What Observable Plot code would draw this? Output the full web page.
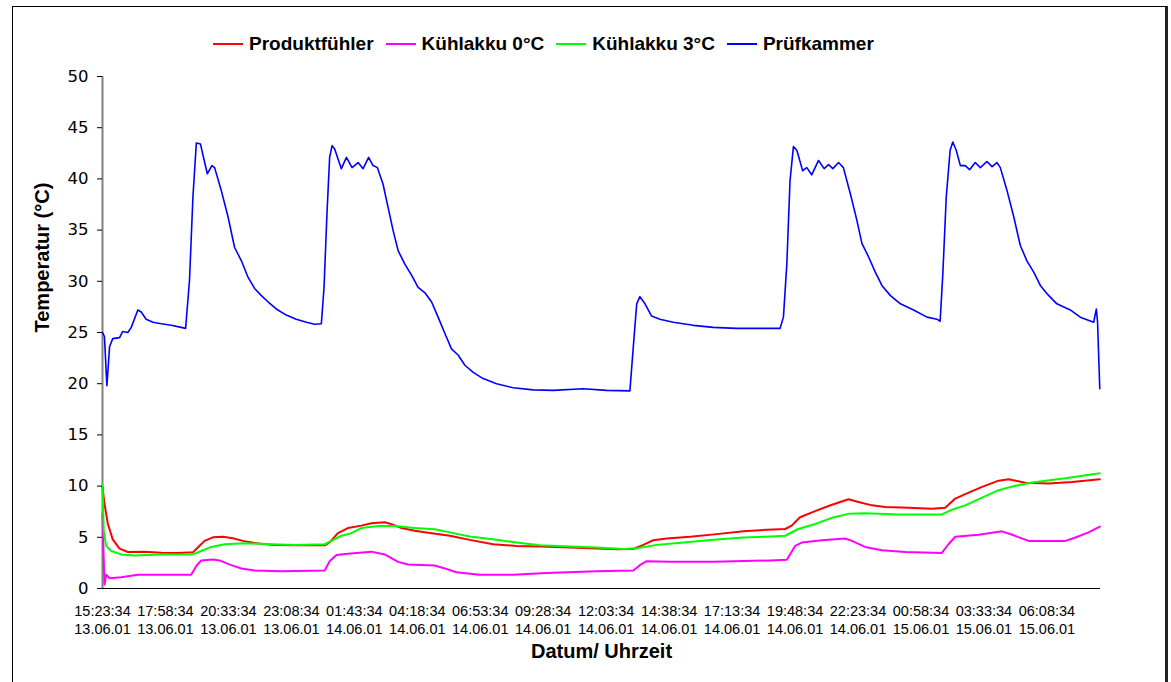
<!DOCTYPE html>
<html>
<head>
<meta charset="utf-8">
<script src="https://cdn.jsdelivr.net/npm/d3@7"></script>
<script src="https://cdn.jsdelivr.net/npm/@observablehq/plot@0.6"></script>
<style>
  body { margin: 0; background: #fff; }
  #wrap { position: relative; width: 1171px; height: 682px; overflow: hidden; background: #fff; }
  #box { position: absolute; left: 12px; top: 6px; width: 1152px; height: 720px; border-left: 1px solid #000; border-top: 1px solid #000; border-right: 3px solid #222; }
  #legend { position: absolute; left: 213px; top: 33px; display: flex; align-items: center; font-family: "Liberation Sans", Arial, sans-serif; font-weight: bold; font-size: 19px; line-height: 22px; color: #000; }
  #legend .item { display: flex; align-items: center; margin-right: 12px; }
  #legend .sw { width: 30px; height: 2px; margin-right: 6px; }
  #chart { position: absolute; left: 0; top: 0; }
</style>
</head>
<body>
<div id="wrap">
  <div id="box"></div>
  <div id="legend"></div>
  <div id="chart"></div>
</div>
<script>
// ---- Data (hours since start, °C) ----
const startTime = "2001-06-13T15:23:34Z";
const endTime = "2001-06-15T08:20:34Z";

const seriesNames = ["Produktfühler", "Kühlakku 0°C", "Kühlakku 3°C", "Prüfkammer"];
const seriesColors = ["#ff0000", "#ff00ff", "#00ff00", "#0000ff"];

const produktfuehler = [[0,9.9],[0.08,8.3],[0.22,6.3],[0.42,4.8],[0.70,3.9],[1.04,3.56],[1.72,3.6],[2.41,3.5],[3.09,3.47],[3.71,3.53],[3.91,4.0],[4.19,4.65],[4.53,5.0],[4.94,5.05],[5.35,4.9],[5.76,4.65],[6.24,4.45],[6.93,4.26],[7.89,4.22],[9.12,4.22],[9.32,4.5],[9.66,5.4],[10.07,5.9],[10.62,6.14],[11.03,6.37],[11.58,6.47],[11.92,6.24],[12.27,5.9],[12.81,5.64],[13.36,5.45],[14.25,5.15],[15.07,4.75],[16.03,4.32],[16.99,4.16],[17.95,4.09],[19.18,4.0],[20.27,3.9],[21.10,3.83],[21.78,3.86],[22.19,4.26],[22.60,4.72],[23.15,4.88],[24.11,5.05],[25.20,5.31],[26.30,5.58],[27.26,5.74],[28.01,5.81],[28.28,6.14],[28.62,6.96],[29.24,7.56],[29.93,8.18],[30.61,8.71],[31.02,8.45],[31.57,8.12],[32.11,7.95],[33.07,7.89],[34.03,7.79],[34.58,7.89],[34.99,8.78],[35.40,9.21],[36.09,9.93],[36.77,10.53],[37.18,10.66],[37.86,10.33],[38.82,10.26],[39.78,10.4],[40.92,10.66]];

const kuehlakku0 = [[0,7.3],[0.08,0.36],[0.15,1.35],[0.29,1.0],[0.77,1.1],[1.45,1.35],[3.64,1.35],[3.85,2.2],[4.05,2.74],[4.53,2.84],[4.80,2.74],[5.28,2.28],[5.70,1.95],[6.24,1.75],[7.34,1.68],[9.12,1.75],[9.32,2.67],[9.60,3.27],[10.07,3.4],[11.03,3.6],[11.58,3.33],[12.13,2.6],[12.54,2.34],[13.63,2.24],[13.98,2.01],[14.52,1.58],[15.48,1.35],[16.85,1.35],[18.22,1.52],[20.27,1.68],[21.78,1.75],[22.05,2.28],[22.33,2.67],[23.29,2.61],[25.06,2.61],[27.39,2.74],[28.08,2.8],[28.42,4.16],[28.69,4.49],[29.52,4.72],[30.47,4.88],[30.75,4.65],[31.29,4.06],[31.98,3.73],[32.94,3.56],[34.44,3.47],[34.71,4.32],[34.99,5.05],[35.95,5.25],[36.91,5.58],[37.32,5.25],[38.0,4.65],[39.51,4.65],[39.92,4.98],[40.46,5.48],[40.92,6.04]];

const kuehlakku3 = [[0,10.1],[0.05,5.6],[0.15,4.16],[0.36,3.66],[0.77,3.33],[1.31,3.23],[2.41,3.33],[3.71,3.33],[4.05,3.66],[4.46,4.06],[5.01,4.32],[5.83,4.42],[6.93,4.32],[7.89,4.26],[9.12,4.32],[9.39,4.65],[9.80,5.15],[10.21,5.4],[10.62,5.9],[11.31,6.1],[11.99,6.1],[12.81,5.9],[13.63,5.78],[14.25,5.48],[15.07,5.08],[16.17,4.75],[16.99,4.49],[17.95,4.22],[19.18,4.09],[20.27,4.0],[21.37,3.86],[21.92,3.93],[22.74,4.26],[23.83,4.49],[25.06,4.75],[26.30,4.98],[27.39,5.08],[28.01,5.15],[28.55,5.81],[29.24,6.30],[29.93,6.90],[30.61,7.29],[31.29,7.36],[32.66,7.23],[34.44,7.23],[34.85,7.69],[35.40,8.12],[36.09,8.88],[36.77,9.6],[37.45,10.03],[38.14,10.36],[39.51,10.76],[40.92,11.25]];

const pruefkammer = [[0,25.0],[0.08,24.6],[0.18,19.8],[0.29,23.6],[0.42,24.4],[0.70,24.5],[0.83,25.1],[1.04,25.0],[1.18,25.5],[1.45,27.2],[1.59,27.0],[1.79,26.3],[2.07,26.0],[2.41,25.85],[2.82,25.7],[3.23,25.5],[3.41,25.4],[3.57,30.1],[3.71,38.2],[3.85,43.5],[4.02,43.4],[4.30,40.5],[4.49,41.3],[4.60,41.1],[4.87,38.9],[5.15,36.3],[5.42,33.3],[5.70,32.0],[5.97,30.4],[6.24,29.3],[6.52,28.6],[6.79,28.0],[7.13,27.3],[7.54,26.7],[7.95,26.3],[8.37,26.0],[8.71,25.8],[8.98,25.85],[9.09,29.4],[9.21,36.6],[9.32,42.1],[9.42,43.25],[9.53,42.9],[9.80,41.0],[10.01,42.1],[10.24,41.1],[10.49,41.6],[10.69,41.0],[10.92,42.1],[11.10,41.3],[11.28,41.1],[11.51,39.5],[11.72,37.2],[11.92,35.0],[12.13,33.0],[12.40,31.7],[12.68,30.6],[12.95,29.4],[13.22,28.9],[13.50,28.0],[13.77,26.5],[14.05,24.9],[14.32,23.4],[14.59,22.8],[14.87,21.8],[15.21,21.1],[15.62,20.5],[16.17,20.0],[16.85,19.6],[17.67,19.4],[18.49,19.35],[19.72,19.5],[20.69,19.35],[21.64,19.3],[21.78,23.6],[21.92,27.8],[22.05,28.5],[22.26,27.8],[22.53,26.6],[22.87,26.3],[23.42,26.0],[24.24,25.7],[25.06,25.5],[26.02,25.4],[26.84,25.4],[27.80,25.4],[27.94,26.5],[28.08,31.7],[28.21,39.8],[28.35,43.15],[28.49,42.8],[28.73,40.8],[28.90,41.1],[29.10,40.4],[29.38,41.8],[29.61,41.0],[29.79,41.4],[29.97,41.0],[30.20,41.6],[30.40,41.1],[30.68,38.6],[30.95,36.0],[31.16,33.7],[31.43,32.4],[31.71,30.9],[31.98,29.6],[32.33,28.6],[32.74,27.8],[33.28,27.2],[33.83,26.5],[34.24,26.3],[34.37,26.1],[34.48,30.7],[34.62,38.2],[34.78,42.8],[34.89,43.6],[35.03,42.8],[35.20,41.3],[35.40,41.3],[35.58,40.9],[35.81,41.6],[36.02,41.1],[36.29,41.7],[36.50,41.2],[36.70,41.6],[36.84,41.1],[37.11,38.9],[37.39,36.3],[37.66,33.5],[37.93,32.0],[38.21,30.9],[38.48,29.6],[38.75,28.8],[39.16,27.8],[39.71,27.2],[40.12,26.5],[40.67,26.0],[40.78,27.3],[40.83,26.0],[40.92,19.5]];

const xTickDates = ["2001-06-13T15:23:34Z","2001-06-13T17:58:34Z","2001-06-13T20:33:34Z","2001-06-13T23:08:34Z","2001-06-14T01:43:34Z","2001-06-14T04:18:34Z","2001-06-14T06:53:34Z","2001-06-14T09:28:34Z","2001-06-14T12:03:34Z","2001-06-14T14:38:34Z","2001-06-14T17:13:34Z","2001-06-14T19:48:34Z","2001-06-14T22:23:34Z","2001-06-15T00:58:34Z","2001-06-15T03:33:34Z","2001-06-15T06:08:34Z"];
const yTicks = [0,5,10,15,20,25,30,35,40,45,50];

const xTitle = "Datum/ Uhrzeit";
const yTitle = "Temperatur (°C)";

// ---- Build ----
const t0 = new Date(startTime).getTime();
const toRows = (arr) => arr.map(([h, v]) => ({date: new Date(t0 + h * 3600000), value: v}));
const allSeries = [produktfuehler, kuehlakku0, kuehlakku3, pruefkammer];
const ticks = xTickDates.map(d => new Date(d));
const xDomain = [new Date(startTime), new Date(endTime)];

const lineMarks = allSeries.map((s, i) =>
  Plot.line(toRows(s), {x: "date", y: "value", stroke: seriesColors[i], strokeWidth: i === 3 ? 1.6 : 2})
);

const chart = Plot.plot({
  width: 1171,
  height: 682,
  marginLeft: 102,
  marginRight: 71,
  marginTop: 76,
  marginBottom: 94,
  style: {fontFamily: "'Liberation Sans', Arial, sans-serif", color: "#000", background: "transparent", overflow: "visible"},
  x: {type: "utc", domain: xDomain},
  y: {domain: [0, 50]},
  marks: [
    Plot.ruleY([0], {stroke: "#000", strokeWidth: 1}),
    Plot.ruleX([xDomain[0]], {stroke: "#808080", strokeWidth: 2}),
    ...lineMarks,
    Plot.axisY({ticks: yTicks, tickSize: 5, tickPadding: 9, fontSize: 16.5, fontFamily: "'DejaVu Sans', sans-serif", label: null, stroke: "#000"}),
    Plot.axisX({ticks: ticks, tickFormat: d3.utcFormat("%H:%M:%S"), tickSize: 0, tickPadding: 17, fontSize: 14.5, label: null}),
    Plot.axisX({ticks: ticks, tickFormat: d3.utcFormat("%d.%m.%y"), tickSize: 0, tickPadding: 35, fontSize: 14.5, label: null}),
    Plot.text([xTitle], {frameAnchor: "bottom", dy: 69, fontWeight: "bold", fontSize: 20, fill: "#000"}),
    Plot.text([yTitle], {frameAnchor: "left", dx: -60, rotate: -90, fontWeight: "bold", fontSize: 20, fill: "#000"})
  ]
});
document.getElementById("chart").appendChild(chart);

// legend
const legend = document.getElementById("legend");
seriesNames.forEach((name, i) => {
  const item = document.createElement("div");
  item.className = "item";
  const sw = document.createElement("span");
  sw.className = "sw";
  sw.style.background = seriesColors[i];
  const tx = document.createElement("span");
  tx.textContent = name;
  item.appendChild(sw);
  item.appendChild(tx);
  legend.appendChild(item);
});
</script>
</body>
</html>
